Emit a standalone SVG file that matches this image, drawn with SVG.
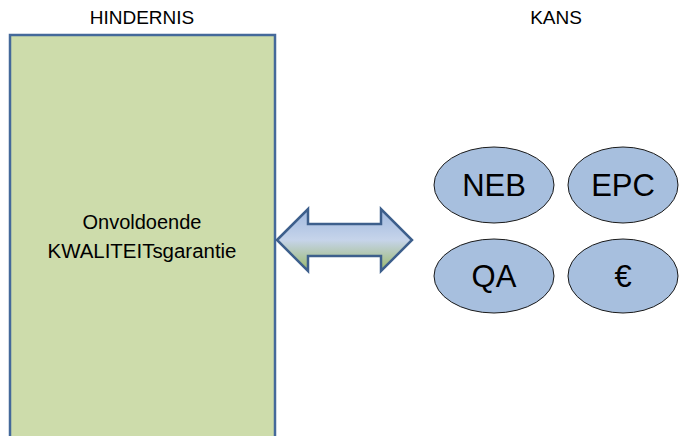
<svg xmlns="http://www.w3.org/2000/svg" width="681" height="436" viewBox="0 0 681 436">
<style>
.hdr{font-family:"Liberation Sans",Arial,sans-serif;font-size:19px;fill:#000;text-anchor:middle}
.box{font-family:"Liberation Sans",Arial,sans-serif;font-size:20px;fill:#000;text-anchor:middle}
.ell{fill:#a7bfde;stroke:#1a1a1a;stroke-width:1}
.et{font-family:"Liberation Sans",Arial,sans-serif;font-size:31px;fill:#000;text-anchor:middle}
</style>
<defs>
<linearGradient id="ag" x1="0" y1="0" x2="0" y2="1">
<stop offset="0" stop-color="#9fb8df"/>
<stop offset="0.5" stop-color="#c6d4ea"/>
<stop offset="1" stop-color="#9ab86a"/>
</linearGradient>
</defs>
<rect width="681" height="436" fill="#fff"/>
<text class="hdr" x="142" y="24">HINDERNIS</text>
<text class="hdr" x="556" y="24">KANS</text>
<g id="hindernis">
<rect x="10" y="35" width="265" height="410" fill="#cddcab" stroke="#44699a" stroke-width="2.5"/>
<text class="box" x="142" y="229">Onvoldoende</text>
<text class="box" x="142" y="258" textLength="189" lengthAdjust="spacingAndGlyphs">KWALITEITsgarantie</text>
</g>
<g id="connectors">
<polygon points="277,240 308,209 308,224 381,224 381,209 412,240 381,271 381,256 308,256 308,271" fill="url(#ag)" stroke="#3d5f8c" stroke-width="2.5" stroke-linejoin="miter"/>
</g>
<g id="neb">
<ellipse class="ell" cx="494" cy="185" rx="60" ry="38"/>
<text class="et" x="494" y="196">NEB</text>
</g>
<g id="epc">
<ellipse class="ell" cx="623" cy="185" rx="55" ry="38"/>
<text class="et" x="623" y="196">EPC</text>
</g>
<g id="qa">
<ellipse class="ell" cx="494" cy="276" rx="60" ry="37"/>
<text class="et" x="494" y="287">QA</text>
</g>
<g id="euro">
<ellipse class="ell" cx="623" cy="276" rx="55" ry="37"/>
<text class="et" x="623" y="287">€</text>
</g>
</svg>
